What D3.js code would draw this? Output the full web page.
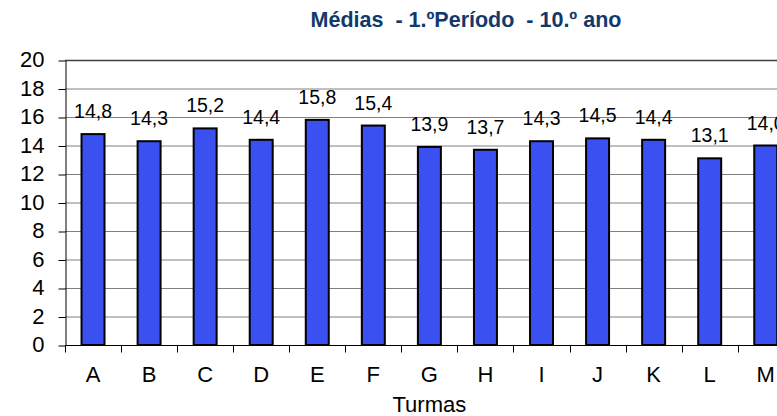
<!DOCTYPE html>
<html lang="pt">
	<head>
		<meta charset="utf-8">
		<title>Médias - 1.º Período - 10.º ano</title>
		<script type="text/javascript" src="https://cdn.jsdelivr.net/npm/d3@7"></script>
		<style type="text/css">
			body { margin: 0; background: #fff; }
			text { font-family: Arial, "Liberation Sans", sans-serif; }
		</style>
	</head>
	<body>
		<script type="text/javascript">

			//Data
			var turmas = ["A", "B", "C", "D", "E", "F", "G", "H", "I", "J", "K", "L", "M"];
			var medias = [14.8, 14.3, 15.2, 14.4, 15.8, 15.4, 13.9, 13.7, 14.3, 14.5, 14.4, 13.1, 14.0];
			var yTicks = [0, 2, 4, 6, 8, 10, 12, 14, 16, 18, 20];

			//Size and plot area (plot runs past the right edge, like the original)
			var w = 777;
			var h = 416;
			var plotLeft = 65, plotTop = 60, plotBottom = 345;
			var step = 56.06;
			var plotRight = plotLeft + step * turmas.length;

			var svg = d3.select("body")
						.append("svg")
						.attr("width", w)
						.attr("height", h);

			var xScale = d3.scaleBand()
							.domain(turmas)
							.range([plotLeft, plotRight])
							.paddingInner(0.59)
							.paddingOuter(0.295);

			var yScale = d3.scaleLinear()
							.domain([0, 20])
							.range([plotBottom, plotTop]);

			//Gridlines
			svg.append("g")
			   .selectAll("line")
			   .data(yTicks.slice(1))
			   .enter()
			   .append("line")
			   .attr("x1", plotLeft)
			   .attr("x2", plotRight)
			   .attr("y1", function(d) { return yScale(d) + 0.5; })
			   .attr("y2", function(d) { return yScale(d) + 0.5; })
			   .attr("stroke", function(d) { return d == 20 ? "#404040" : "#808080"; })
			   .attr("stroke-width", function(d) { return d == 20 ? 1.5 : 1; });

			//Y axis
			var yAxis = svg.append("g")
						   .attr("transform", "translate(" + (plotLeft + 0.5) + ",0.5)")
						   .call(d3.axisLeft(yScale).tickValues(yTicks).tickSize(7).tickSizeOuter(0).tickPadding(14));
			yAxis.select(".domain").attr("stroke", "#000");
			yAxis.selectAll(".tick line").attr("stroke", "#000");
			yAxis.selectAll("text")
				 .attr("font-size", "22px")
				 .attr("dy", "0.28em")
				 .attr("fill", "#000")
				 .style("font-family", "Arial, 'Liberation Sans', sans-serif");

			//X axis (ticks between categories)
			var xAxis = svg.append("g").attr("transform", "translate(0," + (plotBottom + 0.5) + ")");
			xAxis.append("line")
				 .attr("x1", plotLeft)
				 .attr("x2", plotRight)
				 .attr("stroke", "#000");
			xAxis.selectAll(".tk")
				 .data(d3.range(turmas.length + 1))
				 .enter()
				 .append("line")
				 .attr("class", "tk")
				 .attr("x1", function(d) { return Math.round(plotLeft + d * step) + 0.5; })
				 .attr("x2", function(d) { return Math.round(plotLeft + d * step) + 0.5; })
				 .attr("y1", 0)
				 .attr("y2", 7)
				 .attr("stroke", "#000");
			xAxis.selectAll(".lbl")
				 .data(turmas)
				 .enter()
				 .append("text")
				 .attr("class", "lbl")
				 .attr("x", function(d) { return xScale(d) + xScale.bandwidth() / 2; })
				 .attr("y", 36)
				 .attr("text-anchor", "middle")
				 .attr("font-size", "22px")
				 .text(function(d) { return d; });

			//Bars
			svg.selectAll("rect")
			   .data(medias)
			   .enter()
			   .append("rect")
			   .attr("x", function(d, i) { return xScale(turmas[i]); })
			   .attr("y", function(d) { return yScale(d); })
			   .attr("width", xScale.bandwidth())
			   .attr("height", function(d) { return plotBottom - yScale(d); })
			   .attr("fill", "#3a50f0")
			   .attr("stroke", "#000")
			   .attr("stroke-width", 2);

			//Value labels
			svg.selectAll(".val")
			   .data(medias)
			   .enter()
			   .append("text")
			   .attr("class", "val")
			   .attr("x", function(d, i) { return xScale(turmas[i]) + xScale.bandwidth() / 2; })
			   .attr("y", function(d) { return yScale(d) - 16; })
			   .attr("text-anchor", "middle")
			   .attr("font-size", "19.5px")
			   .text(function(d) { return d.toFixed(1).replace(".", ","); });

			//Title and axis title
			svg.append("text")
			   .attr("x", 466)
			   .attr("y", 27)
			   .attr("text-anchor", "middle")
			   .attr("font-size", "21.5px")
			   .attr("font-weight", "bold")
			   .attr("fill", "#12396b")
			   .attr("xml:space", "preserve")
			   .text("Médias  - 1.ºPeríodo  - 10.º ano");

			svg.append("text")
			   .attr("x", (plotLeft + plotRight) / 2)
			   .attr("y", 412)
			   .attr("text-anchor", "middle")
			   .attr("font-size", "22px")
			   .text("Turmas");

		</script>
	</body>
</html>
